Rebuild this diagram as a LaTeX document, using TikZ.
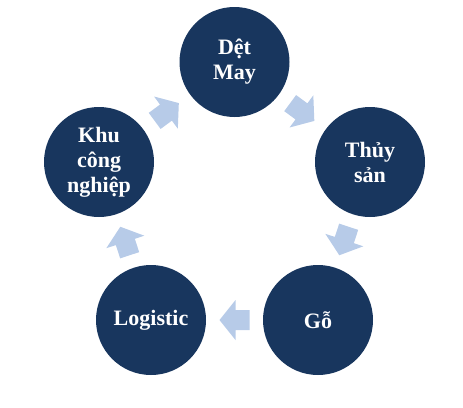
\documentclass[tikz,border=0pt]{standalone}
\usepackage{fontspec}
\setmainfont{Liberation Serif}
\usetikzlibrary{calc}
\definecolor{navy}{RGB}{24,54,94}
\definecolor{arrowblue}{RGB}{183,203,232}
\tikzset{
  stage/.style={circle, fill=navy, draw=none, minimum size=110pt, inner sep=0pt,
    text=white, font=\bfseries\fontsize{22}{25}\selectfont, align=center},
  cyclearrow/.pic={\fill[arrowblue] (-15,-10) -- (-1,-10) -- (-1,-20) -- (15,0) -- (-1,20) -- (-1,10) -- (-15,10) -- cycle;}
}
\newcommand{\cyclearrowbetween}[2]{%
  \path let \p1=($(#2)-(#1)$), \n1={atan2(\y1,\x1)} in ($(#1)!0.5!(#2)$) pic[rotate=\n1]{cyclearrow};}
\begin{document}
\begin{tikzpicture}[x=1pt,y=-1pt]
\useasboundingbox (0,0) rectangle (463,407);
\node[stage] (det) at (234.5,62) {Dệt\\May};
\node[stage] (thuy) at (370,162) {Thủy\\sản};
\node[stage] (go) at (318,320) {Gỗ};
\node[stage] (log) at (151,320) {Logistic};
\node[stage] (khu) at (99,162) {Khu\\công\\nghiệp};
\cyclearrowbetween{det}{thuy}
\cyclearrowbetween{thuy}{go}
\cyclearrowbetween{go}{log}
\cyclearrowbetween{log}{khu}
\cyclearrowbetween{khu}{det}
\end{tikzpicture}
\end{document}
